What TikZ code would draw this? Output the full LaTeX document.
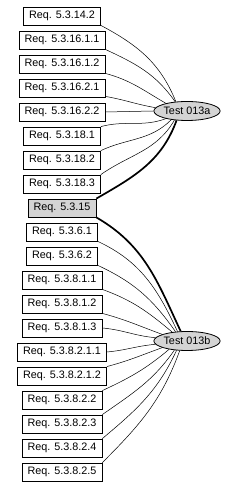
\documentclass[tikz,border=0pt]{standalone}
\usepackage{fontspec}
\setmainfont{Liberation Sans}
\usetikzlibrary{shapes.geometric}
\tikzset{
  req/.style={draw=black, line width=0.8pt, fill=white, minimum height=18pt, inner xsep=5.5pt, inner ysep=0pt, font=\fontsize{10.8}{12}\selectfont},
  reqhl/.style={req, fill=black!17},
  test/.style={ellipse, draw=black, line width=0.8pt, fill=black!17, minimum width=64pt, minimum height=19pt, inner sep=0pt, font=\fontsize{10.8}{12}\selectfont},
  thin/.style={line width=0.5pt},
  heavy/.style={line width=1.7pt}
}
\begin{document}
\begin{tikzpicture}[x=1pt,y=1pt]
\useasboundingbox (0,0) rectangle (233,487);
\node[req] (b0) at (62,471) {Req. 5.3.14.2};
\node[req] (b1) at (62,447) {Req. 5.3.16.1.1};
\node[req] (b2) at (62,423) {Req. 5.3.16.1.2};
\node[req] (b3) at (62,399) {Req. 5.3.16.2.1};
\node[req] (b4) at (62,375) {Req. 5.3.16.2.2};
\node[req] (b5) at (62,351) {Req. 5.3.18.1};
\node[req] (b6) at (62,327) {Req. 5.3.18.2};
\node[req] (b7) at (62,303) {Req. 5.3.18.3};
\node[reqhl] (b8) at (62,279) {Req. 5.3.15};
\node[req] (b9) at (62,255) {Req. 5.3.6.1};
\node[req] (b10) at (62,231) {Req. 5.3.6.2};
\node[req] (b11) at (62,207) {Req. 5.3.8.1.1};
\node[req] (b12) at (62,183) {Req. 5.3.8.1.2};
\node[req] (b13) at (62,159) {Req. 5.3.8.1.3};
\node[req] (b14) at (62,135) {Req. 5.3.8.2.1.1};
\node[req] (b15) at (62,111) {Req. 5.3.8.2.1.2};
\node[req] (b16) at (62,87) {Req. 5.3.8.2.2};
\node[req] (b17) at (62,63) {Req. 5.3.8.2.3};
\node[req] (b18) at (62,39) {Req. 5.3.8.2.4};
\node[req] (b19) at (62,15) {Req. 5.3.8.2.5};
\node[test] (ta) at (187,376) {Test 013a};
\node[test] (tb) at (187,146) {Test 013b};
% edges to Test 013a
\draw[thin] (b0.south east) to[out=-28, in=112] (ta.140);
\draw[thin] (b1.south east) to[out=-25, in=125] (ta.142);
\draw[thin] (b2.south east) to[out=-15, in=150] (ta.160);
\draw[thin] ([yshift=1pt]b3.south east) to[out=-10, in=170] (ta.174);
\draw[thin] (b4.east) -- (ta.west);
\draw[thin] (b5.north east) to[out=15, in=-160] (ta.200);
\draw[thin] (b6.north east) to[out=25, in=-135] (ta.209);
\draw[thin] (b7.north east) to[out=35, in=-120] (ta.216);
\draw[heavy] (b8.north east) to[out=30, in=-110] (ta.222);
% edges to Test 013b
\draw[heavy] (b8.south east) to[out=-30, in=115] (tb.123);
\draw[thin] (b9.south east) to[out=-25, in=115] (tb.135);
\draw[thin] (b10.south east) to[out=-25, in=125] (tb.141);
\draw[thin] (b11.south east) to[out=-20, in=140] (tb.149);
\draw[thin] (b12.south east) to[out=-15, in=160] (tb.165);
\draw[thin] (b13.east) to[out=-5, in=175] (tb.174);
\draw[thin] (b14.east) to[out=5, in=-175] (tb.186);
\draw[thin] (b15.north east) to[out=15, in=-160] (tb.195);
\draw[thin] (b16.north east) to[out=25, in=-140] (tb.205);
\draw[thin] (b17.north east) to[out=35, in=-125] (tb.216);
\draw[thin] (b18.north east) to[out=40, in=-115] (tb.222);
\draw[thin] (b19.north east) to[out=45, in=-110] (tb.233);
\end{tikzpicture}
\end{document}
